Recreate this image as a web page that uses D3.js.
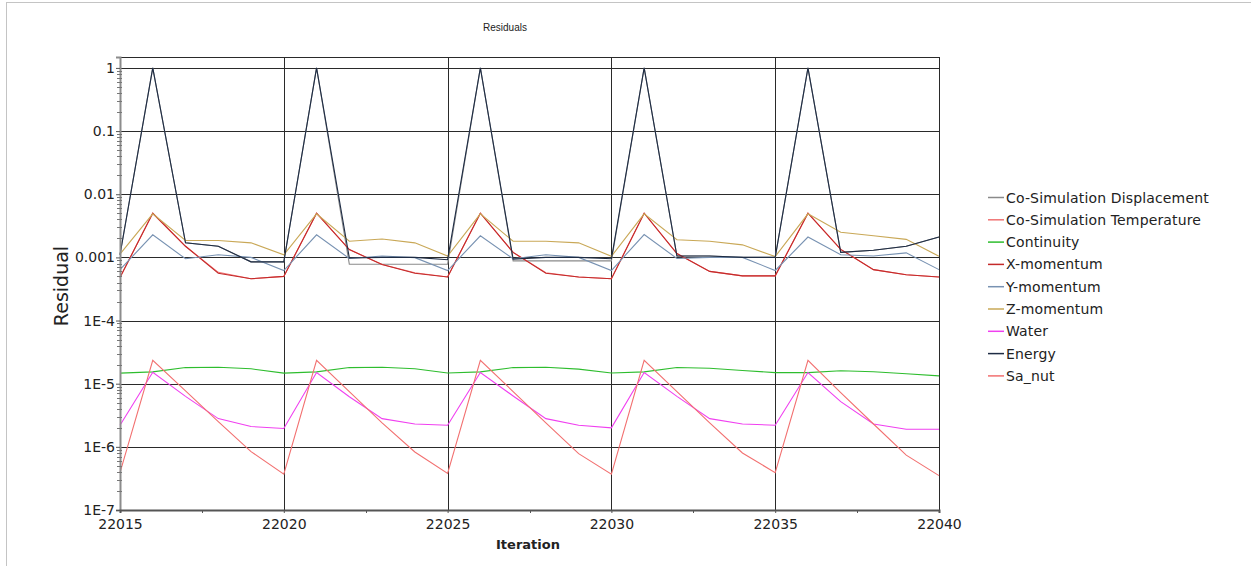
<!DOCTYPE html>
<html>
<head>
<meta charset="utf-8">
<script src="https://cdn.jsdelivr.net/npm/d3@7"></script>
<style>
  html, body { margin: 0; padding: 0; background: #fff; }
  svg { display: block; }
  text { font-family: "DejaVu Sans", sans-serif; fill: #222; }
</style>
</head>
<body>
<svg id="chart" width="1251" height="566"></svg>
<script>
// Iterations on the x axis
const iterations = [22015, 22016, 22017, 22018, 22019, 22020, 22021, 22022, 22023, 22024, 22025, 22026, 22027,
                    22028, 22029, 22030, 22031, 22032, 22033, 22034, 22035, 22036, 22037, 22038, 22039, 22040];

// Residual histories, one value per iteration
const coSimDisplacement = [0.0011, 1, 0.0017, 0.0015, 0.00085, 0.00085, 1, 0.00078, 0.00078, 0.00078, 0.00078,
                           1, 0.00088, 0.00088, 0.00088, 0.00088, 1, 0.00105, 0.00105, 0.001, 0.001,
                           1, 0.0012, 0.0013, 0.0015, 0.0021];
const coSimTemperature = [0.00048, 0.005, 0.0015, 0.00058, 0.00046, 0.0005, 0.005, 0.00133, 0.00077, 0.00057, 0.00049,
                          0.005, 0.0012, 0.00057, 0.00049, 0.00046, 0.005, 0.00115, 0.0006, 0.00051, 0.00051,
                          0.005, 0.00134, 0.00064, 0.00053, 0.00049];
const continuity = [1.47e-5, 1.54e-5, 1.8e-5, 1.82e-5, 1.72e-5, 1.47e-5, 1.54e-5, 1.8e-5, 1.82e-5, 1.72e-5, 1.48e-5,
                    1.54e-5, 1.8e-5, 1.82e-5, 1.7e-5, 1.48e-5, 1.54e-5, 1.8e-5, 1.76e-5, 1.62e-5, 1.5e-5,
                    1.5e-5, 1.6e-5, 1.55e-5, 1.44e-5, 1.33e-5];
const xMomentum = [0.00048, 0.005, 0.0015, 0.00056, 0.00046, 0.0005, 0.005, 0.00133, 0.00077, 0.00056, 0.00049,
                   0.005, 0.0012, 0.00056, 0.00049, 0.00046, 0.005, 0.00115, 0.0006, 0.00051, 0.00051,
                   0.005, 0.00134, 0.00064, 0.00053, 0.00049];
const yMomentum = [0.00064, 0.00228, 0.00095, 0.0011, 0.001, 0.00062, 0.00228, 0.00096, 0.00105, 0.00099, 0.00062,
                   0.0022, 0.00095, 0.0011, 0.001, 0.00062, 0.0023, 0.00096, 0.001, 0.001, 0.00062,
                   0.0021, 0.0011, 0.00105, 0.00118, 0.00064];
const zMomentum = [0.00113, 0.0049, 0.00185, 0.00185, 0.0017, 0.0011, 0.0049, 0.0018, 0.00196, 0.0017, 0.00105,
                   0.0049, 0.0018, 0.0018, 0.0017, 0.00104, 0.0049, 0.0019, 0.0018, 0.00158, 0.00103,
                   0.0049, 0.0025, 0.0022, 0.00193, 0.00104];
const water = [2.2e-6, 1.52e-5, 6.3e-6, 2.8e-6, 2.1e-6, 1.95e-6, 1.5e-5, 6.2e-6, 2.8e-6, 2.3e-6, 2.2e-6,
               1.5e-5, 6.4e-6, 2.8e-6, 2.2e-6, 2.0e-6, 1.5e-5, 6.3e-6, 2.8e-6, 2.3e-6, 2.2e-6,
               1.5e-5, 5.2e-6, 2.3e-6, 1.9e-6, 1.9e-6];
const energy = [0.0011, 1, 0.0017, 0.0015, 0.00085, 0.00085, 1, 0.00098, 0.001, 0.001, 0.00092,
                1, 0.00094, 0.001, 0.001, 0.00095, 1, 0.00105, 0.00105, 0.001, 0.001,
                1, 0.0012, 0.0013, 0.0015, 0.0021];
const saNut = [3.9e-7, 2.35e-5, 7.7e-6, 2.5e-6, 8.4e-7, 3.7e-7, 2.35e-5, 7.5e-6, 2.4e-6, 8.3e-7, 3.8e-7,
               2.35e-5, 7.5e-6, 2.4e-6, 7.8e-7, 3.7e-7, 2.35e-5, 7.5e-6, 2.4e-6, 8e-7, 3.9e-7,
               2.35e-5, 7.2e-6, 2.3e-6, 7.4e-7, 3.5e-7];

const seriesNames = ["Co-Simulation Displacement", "Co-Simulation Temperature", "Continuity", "X-momentum",
                     "Y-momentum", "Z-momentum", "Water", "Energy", "Sa_nut"];
const seriesColors = ["#8a8a8a", "#f07474", "#2ebd2e", "#c42a2a", "#7892b2", "#c9a857", "#f040f0", "#1e2c44", "#f27070"];
const seriesValues = [coSimDisplacement, coSimTemperature, continuity, xMomentum, yMomentum, zMomentum, water, energy, saNut];

// Axis ticks
const xTicks = [22015, 22020, 22025, 22030, 22035, 22040];
const xMinorTicks = [22017.5, 22022.5, 22027.5, 22032.5, 22037.5];
const yTicks = [1, 0.1, 0.01, 0.001, 1e-4, 1e-5, 1e-6, 1e-7];
const yTickLabels = ["1", "0.1", "0.01", "0.001", "1E-4", "1E-5", "1E-6", "1E-7"];

const svg = d3.select("#chart");
const plot = { left: 120, right: 939, top: 57, bottom: 510 };

const x = d3.scaleLinear().domain([22015, 22040]).range([plot.left, plot.right]);
const y = d3.scaleLog().domain([1e-7, 1.49]).range([plot.bottom, plot.top]);

// Outer panel edges
svg.append("line").attr("x1", 6.5).attr("x2", 6.5).attr("y1", 2).attr("y2", 566)
  .attr("stroke", "#c4c4c4").attr("stroke-width", 1);
svg.append("line").attr("x1", 6).attr("x2", 1251).attr("y1", 2.5).attr("y2", 2.5)
  .attr("stroke", "#c4c4c4").attr("stroke-width", 1);

// Title
svg.append("text").attr("x", 505).attr("y", 31).attr("text-anchor", "middle")
  .style("font-family", "'Liberation Sans Narrow', 'Liberation Sans', sans-serif")
  .style("font-size", "10px").text("Residuals");

// Grid: horizontal at each decade, vertical every 5 iterations, plus the top frame
const grid = svg.append("g").attr("shape-rendering", "crispEdges");
grid.selectAll(".hg").data(yTicks.slice(0, -1)).join("line")
  .attr("x1", plot.left).attr("x2", plot.right)
  .attr("y1", d => Math.round(y(d)) + 0.5).attr("y2", d => Math.round(y(d)) + 0.5)
  .attr("stroke", "#2a2a2a").attr("stroke-width", 1);
grid.selectAll(".vg").data(xTicks.slice(1)).join("line")
  .attr("x1", d => Math.round(x(d)) + 0.5).attr("x2", d => Math.round(x(d)) + 0.5)
  .attr("y1", plot.top).attr("y2", plot.bottom)
  .attr("stroke", "#2a2a2a").attr("stroke-width", 1);
grid.append("line").attr("x1", plot.left).attr("x2", plot.right)
  .attr("y1", plot.top + 0.5).attr("y2", plot.top + 0.5).attr("stroke", "#2a2a2a");

// Residual lines
const line = d3.line().x((d, i) => x(iterations[i])).y(d => y(d));
const linesG = svg.append("g");
seriesValues.forEach((vals, k) => {
  linesG.append("path").datum(vals)
    .attr("d", line)
    .attr("fill", "none")
    .attr("stroke", seriesColors[k])
    .attr("stroke-width", 1.1)
    .attr("stroke-linejoin", "miter");
});

// Y axis with log minor ticks
const yAxis = d3.axisLeft(y).tickValues(yTicks)
  .tickFormat((d, i) => yTickLabels[i]).tickSize(4).tickPadding(1);
const yAxisG = svg.append("g").attr("transform", `translate(${plot.left},0)`).call(yAxis);
yAxisG.select(".domain").attr("stroke", "#8c8c8c").attr("stroke-width", 2);
yAxisG.selectAll(".tick line").attr("stroke", "#555");
yAxisG.selectAll(".tick text").style("font-size", "14px").style("font-family", "'DejaVu Sans', sans-serif").attr("fill", "#222");

const minorY = [];
for (let e = -7; e <= 0; e++) {
  for (let m = 2; m <= 9; m++) {
    const v = m * Math.pow(10, e);
    if (v <= 1.49) minorY.push(v);
  }
}
svg.append("g").attr("shape-rendering", "crispEdges").selectAll("line").data(minorY).join("line")
  .attr("x1", plot.left - 3).attr("x2", plot.left + 2)
  .attr("y1", d => Math.round(y(d)) + 0.5).attr("y2", d => Math.round(y(d)) + 0.5)
  .attr("stroke", "#777");

// X axis
const xAxis = d3.axisBottom(x).tickValues(xTicks).tickFormat(d3.format("d")).tickSize(3).tickPadding(6);
const xAxisG = svg.append("g").attr("transform", `translate(0,${plot.bottom})`).call(xAxis);
xAxisG.select(".domain").attr("stroke", "#555").attr("stroke-width", 2);
xAxisG.selectAll(".tick line").attr("stroke", "#555");
xAxisG.selectAll(".tick text").style("font-size", "14px").style("font-family", "'DejaVu Sans', sans-serif").attr("fill", "#222");
svg.append("g").selectAll("line").data(xMinorTicks).join("line")
  .attr("x1", d => Math.round(x(d)) + 0.5).attr("x2", d => Math.round(x(d)) + 0.5)
  .attr("y1", plot.bottom).attr("y2", plot.bottom + 3)
  .attr("stroke", "#555");

// Axis titles
svg.append("text").attr("transform", "translate(68,286) rotate(-90)")
  .attr("text-anchor", "middle").style("font-size", "19px").text("Residual");
svg.append("text").attr("x", 528).attr("y", 549).attr("text-anchor", "middle")
  .style("font-size", "13px").style("font-weight", "bold").text("Iteration");

// Legend
const legend = svg.append("g").attr("transform", "translate(988,197)");
seriesNames.forEach((name, k) => {
  const row = legend.append("g").attr("transform", `translate(0,${k * 22.3})`);
  row.append("line").attr("x1", 0).attr("x2", 16).attr("y1", 0.5).attr("y2", 0.5)
    .attr("stroke", seriesColors[k]).attr("stroke-width", 1.5);
  row.append("text").attr("x", 18).attr("y", 5.5).style("font-size", "14px")
    .style("letter-spacing", "0.15px").text(name);
});
</script>
</body>
</html>
